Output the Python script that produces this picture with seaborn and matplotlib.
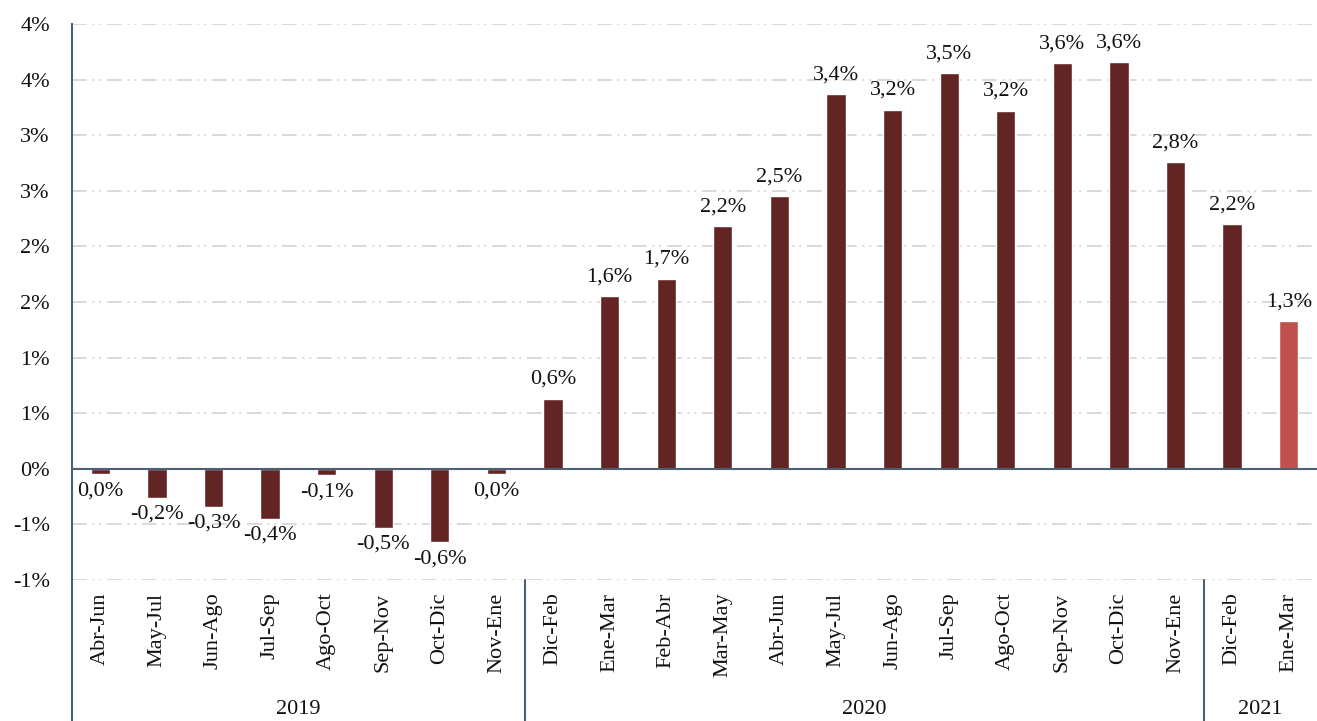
import numpy as np
import pandas as pd
import seaborn as sns
import matplotlib
matplotlib.use('Agg')
import matplotlib.pyplot as plt

# data
periods = ['Abr-Jun', 'May-Jul', 'Jun-Ago', 'Jul-Sep', 'Ago-Oct', 'Sep-Nov', 'Oct-Dic', 'Nov-Ene',
           'Dic-Feb', 'Ene-Mar', 'Feb-Abr', 'Mar-May', 'Abr-Jun', 'May-Jul', 'Jun-Ago', 'Jul-Sep',
           'Ago-Oct', 'Sep-Nov', 'Oct-Dic', 'Nov-Ene',
           'Dic-Feb', 'Ene-Mar']
years = ['2019'] * 8 + ['2020'] * 12 + ['2021'] * 2
values = [-0.05, -0.26, -0.34, -0.45, -0.06, -0.53, -0.66, -0.05,
          0.63, 1.55, 1.71, 2.18, 2.45, 3.37, 3.23, 3.56,
          3.22, 3.65, 3.66, 2.76,
          2.20, 1.33]
value_labels = ['0,0%', '-0,2%', '-0,3%', '-0,4%', '-0,1%', '-0,5%', '-0,6%', '0,0%',
                '0,6%', '1,6%', '1,7%', '2,2%', '2,5%', '3,4%', '3,2%', '3,5%',
                '3,2%', '3,6%', '3,6%', '2,8%',
                '2,2%', '1,3%']
ytick_vals = [-1.0, -0.5, 0.0, 0.5, 1.0, 1.5, 2.0, 2.5, 3.0, 3.5, 4.0]
ytick_labels = ['-1%', '-1%', '0%', '1%', '1%', '2%', '2%', '3%', '3%', '4%', '4%']

dark = '#632523'
light = '#C0504D'
axis_col = '#4F5F73'
grid_col = '#D9D9D9'
txt_col = '#111111'
fs = 16

df = pd.DataFrame({'key': [f'{y} {p}' for y, p in zip(years, periods)],
                   'value': values})
colors = [dark] * (len(values) - 1) + [light]

sns.set_theme(style='white')
plt.rcParams['font.family'] = ['Liberation Serif', 'DejaVu Serif']

fig = plt.figure(figsize=(13.17, 7.21), dpi=100)
ax = fig.add_axes([72 / 1317, 1 - 580 / 721, 1 - 72 / 1317, (580 - 24) / 721])

for yv in ytick_vals:
    if yv != 0:
        ax.axhline(yv, color=grid_col, lw=1.4, ls=(0, (7.5, 3, 1, 2.5, 1, 3)), zorder=0)

sns.barplot(data=df, x='key', y='value', hue='key', palette=colors, legend=False,
            width=0.34, saturation=1, ax=ax, zorder=2)
ax.axhline(0, color=axis_col, lw=1.5, zorder=3)

ax.set_ylim(-1.0, 4.0)
ax.set_xlim(-0.5, len(values) - 0.5)
ax.set_yticks(ytick_vals)
ax.set_yticklabels(ytick_labels, fontsize=fs, color=txt_col)
ax.tick_params(axis='y', length=0, pad=16)
ax.set_xticks(range(len(periods)))
ax.set_xticklabels(periods, rotation=90, fontsize=fs, color=txt_col, va='top')
ax.tick_params(axis='x', length=0, pad=9)
ax.set_xlabel('')
ax.set_ylabel('')

for s in ['top', 'right', 'bottom']:
    ax.spines[s].set_visible(False)
ax.spines['left'].set_color(axis_col)
ax.spines['left'].set_linewidth(1.5)

# data labels
for i, (v, lab) in enumerate(zip(values, value_labels)):
    if v >= 0:
        ax.annotate(lab, (i, v), xytext=(0, 7), textcoords='offset points',
                    ha='center', va='bottom', fontsize=fs, color=txt_col)
    else:
        ax.annotate(lab, (i, v), xytext=(0, -5), textcoords='offset points',
                    ha='center', va='top', fontsize=fs, color=txt_col)

# group separators and year labels below the axis
trans = ax.get_xaxis_transform()
ybot = -(721 - 580) / (580 - 24)
for xs in [-0.5, 7.5, 19.5]:
    ax.plot([xs, xs], [0, ybot], color=axis_col, lw=1.5, transform=trans, clip_on=False)

group_names = ['2019', '2020', '2021']
for g in group_names:
    idx = [i for i, y in enumerate(years) if y == g]
    xc = (idx[0] + idx[-1]) / 2
    ax.text(xc, ybot + 0.003, g, transform=trans, ha='center', va='bottom',
            fontsize=fs, color=txt_col)

fig.savefig('out.png', dpi=100)
